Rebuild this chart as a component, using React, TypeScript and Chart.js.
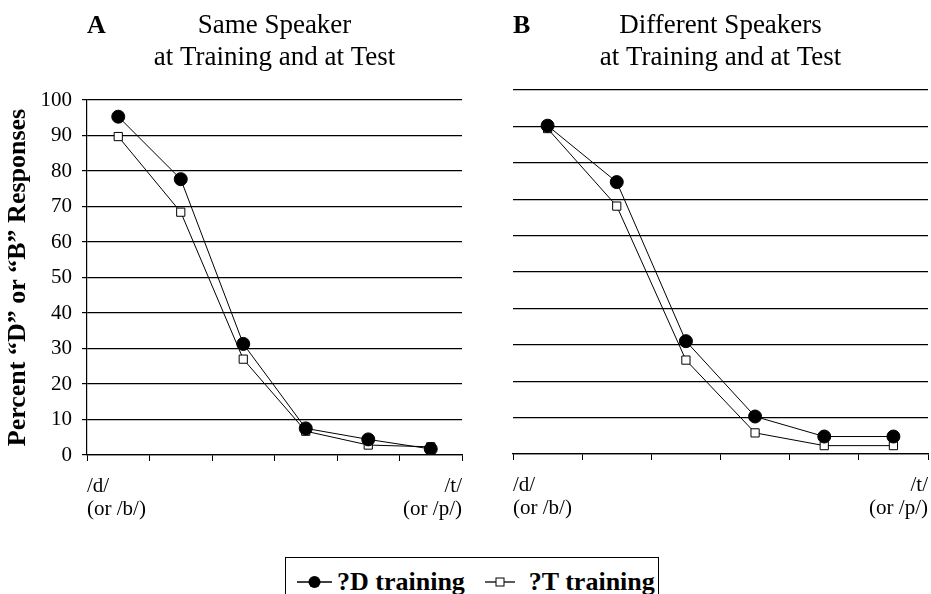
import React, { useEffect, useRef } from "react";
import { Chart, registerables } from "chart.js";

Chart.register(...registerables);

// ---------- data ----------
const steps = [1, 2, 3, 4, 5, 6];
const seriesLabels = ["?D training", "?T training"];
const sameD = [95.3, 77.7, 31.3, 7.5, 4.4, 1.7];
const sameT = [89.7, 68.4, 27.0, 6.7, 2.8, 2.3];
const diffD = [90.2, 74.7, 31.0, 10.3, 4.8, 4.8];
const diffT = [89.4, 68.1, 25.8, 5.8, 2.3, 2.3];
const yMin = 0;
const yMax = 100;
const yStep = 10;
const startLabel = ["/d/", "(or /b/)"];
const endLabel = ["/t/", "(or /p/)"];
const panelATitle = ["Same Speaker", "at Training and at Test"];
const panelBTitle = ["Different Speakers", "at Training and at Test"];
const yAxisTitle = "Percent \u201CD\u201D or \u201CB\u201D Responses";

const SERIF = '"Liberation Serif", "Times New Roman", serif';

type PanelSpec = {
  letter: string;
  title: string[];
  d: number[];
  t: number[];
  showY: boolean;
  width: number;
  height: number;
  top: number;
  bottom: number;
  left: number;
  right: number;
};

const titlePlugin = {
  id: "panelTitle",
  afterDraw(chart: any) {
    const o = chart.options.plugins.panelTitle;
    if (!o) return;
    const ctx = chart.ctx;
    const ca = chart.chartArea;
    ctx.save();
    ctx.fillStyle = "#000";
    ctx.textBaseline = "alphabetic";
    ctx.textAlign = "left";
    ctx.font = `bold 26px ${SERIF}`;
    ctx.fillText(o.letter, ca.left, 33);
    ctx.textAlign = "center";
    ctx.font = `27px ${SERIF}`;
    const cx = (ca.left + ca.right) / 2;
    o.lines.forEach((l: string, i: number) => ctx.fillText(l, cx, 33 + i * 32));
    ctx.restore();
  },
};

function makeConfig(p: PanelSpec): any {
  const toPts = (vals: number[]) => steps.map((s, i) => ({ x: s - 0.5, y: vals[i] }));
  return {
    type: "line",
    data: {
      datasets: [
        {
          label: seriesLabels[0],
          data: toPts(p.d),
          borderColor: "#000",
          borderWidth: 1,
          pointStyle: "circle",
          pointRadius: 6.5,
          pointBackgroundColor: "#000",
          pointBorderColor: "#000",
          pointBorderWidth: 1,
          tension: 0,
        },
        {
          label: seriesLabels[1],
          data: toPts(p.t),
          borderColor: "#000",
          borderWidth: 1,
          pointStyle: "rect",
          pointRadius: 5.8,
          pointBackgroundColor: "#fff",
          pointBorderColor: "#000",
          pointBorderWidth: 1,
          tension: 0,
        },
      ],
    },
    plugins: [titlePlugin],
    options: {
      animation: false,
      responsive: false,
      maintainAspectRatio: false,
      layout: { padding: { top: p.top, right: p.width - p.right, left: 0, bottom: 0 } },
      plugins: {
        legend: { display: false },
        tooltip: { enabled: false },
        title: { display: false },
        panelTitle: { letter: p.letter, lines: p.title },
      },
      scales: {
        x: {
          type: "linear",
          min: 0,
          max: steps.length,
          afterFit: (s: any) => {
            s.height = p.height - p.bottom;
            s.paddingLeft = 0;
            s.paddingRight = 0;
          },
          afterBuildTicks: (s: any) => {
            s.ticks = Array.from({ length: steps.length + 1 }, (_, i) => ({ value: i }));
          },
          ticks: {
            autoSkip: false,
            maxRotation: 0,
            align: "inner",
            padding: 14,
            color: "#000",
            font: { family: SERIF, size: 21, lineHeight: 1.1 },
            callback: (v: number) => (v === 0 ? startLabel : v === steps.length ? endLabel : ""),
          },
          grid: {
            drawOnChartArea: false,
            drawTicks: true,
            tickLength: 6,
            color: "#000",
            lineWidth: 1,
          },
          border: { display: true, color: "#000", width: 1.3 },
        },
        y: {
          min: yMin,
          max: yMax,
          afterFit: (s: any) => {
            s.width = p.left;
          },
          ticks: {
            display: p.showY,
            stepSize: yStep,
            padding: 10,
            color: "#000",
            font: { family: SERIF, size: 21 },
          },
          grid: {
            color: "#000",
            lineWidth: 1.2,
            drawTicks: p.showY,
            tickLength: 5,
          },
          border: { display: p.showY, color: "#000", width: 1.2 },
          title: {
            display: p.showY,
            text: yAxisTitle,
            color: "#000",
            font: { family: SERIF, size: 26, weight: "bold" },
            padding: { top: 3, bottom: 0 },
          },
        },
      },
    },
  };
}

function Panel({ spec, x }: { spec: PanelSpec; x: number }) {
  const ref = useRef<HTMLCanvasElement>(null);
  useEffect(() => {
    if (!ref.current) return;
    const c = new Chart(ref.current, makeConfig(spec));
    return () => c.destroy();
  }, []);
  return (
    <div style={{ position: "absolute", left: x, top: 0, width: spec.width, height: spec.height }}>
      <canvas ref={ref} width={spec.width} height={spec.height} style={{ width: spec.width, height: spec.height }} />
    </div>
  );
}

function LegendIcon({ kind, w }: { kind: "circle" | "rect"; w: number }) {
  return (
    <svg width={w} height={20} style={{ display: "block" }}>
      <line x1={0} y1={10} x2={w} y2={10} stroke="#000" strokeWidth={1.3} />
      {kind === "circle" ? (
        <circle cx={w / 2} cy={10} r={6} fill="#000" />
      ) : (
        <rect x={w / 2 - 4} y={6} width={8} height={8} fill="#fff" stroke="#000" strokeWidth={1} />
      )}
    </svg>
  );
}

export default function App() {
  const specA: PanelSpec = {
    letter: "A",
    title: panelATitle,
    d: sameD,
    t: sameT,
    showY: true,
    width: 470,
    height: 540,
    top: 100,
    bottom: 455,
    left: 87,
    right: 462,
  };
  const specB: PanelSpec = {
    letter: "B",
    title: panelBTitle,
    d: diffD,
    t: diffT,
    showY: false,
    width: 456,
    height: 540,
    top: 90,
    bottom: 454,
    left: 33,
    right: 448,
  };
  const legendText: React.CSSProperties = {
    fontFamily: SERIF,
    fontWeight: "bold",
    fontSize: 26,
    lineHeight: "26px",
    whiteSpace: "nowrap",
  };
  return (
    <div
      style={{
        position: "fixed",
        left: 0,
        top: 0,
        width: 931,
        height: 594,
        overflow: "hidden",
        background: "#fff",
      }}
    >
      <Panel spec={specA} x={0} />
      <Panel spec={specB} x={480} />
      <div
        style={{
          position: "absolute",
          left: 285,
          top: 557,
          width: 374,
          height: 50,
          border: "1.5px solid #000",
          boxSizing: "border-box",
          display: "flex",
          alignItems: "center",
          paddingLeft: 11,
        }}
      >
        <LegendIcon kind="circle" w={35} />
        <span style={{ ...legendText, marginLeft: 5 }}>{seriesLabels[0]}</span>
        <span style={{ width: 20 }} />
        <LegendIcon kind="rect" w={30} />
        <span style={{ ...legendText, marginLeft: 14 }}>{seriesLabels[1]}</span>
      </div>
    </div>
  );
}
